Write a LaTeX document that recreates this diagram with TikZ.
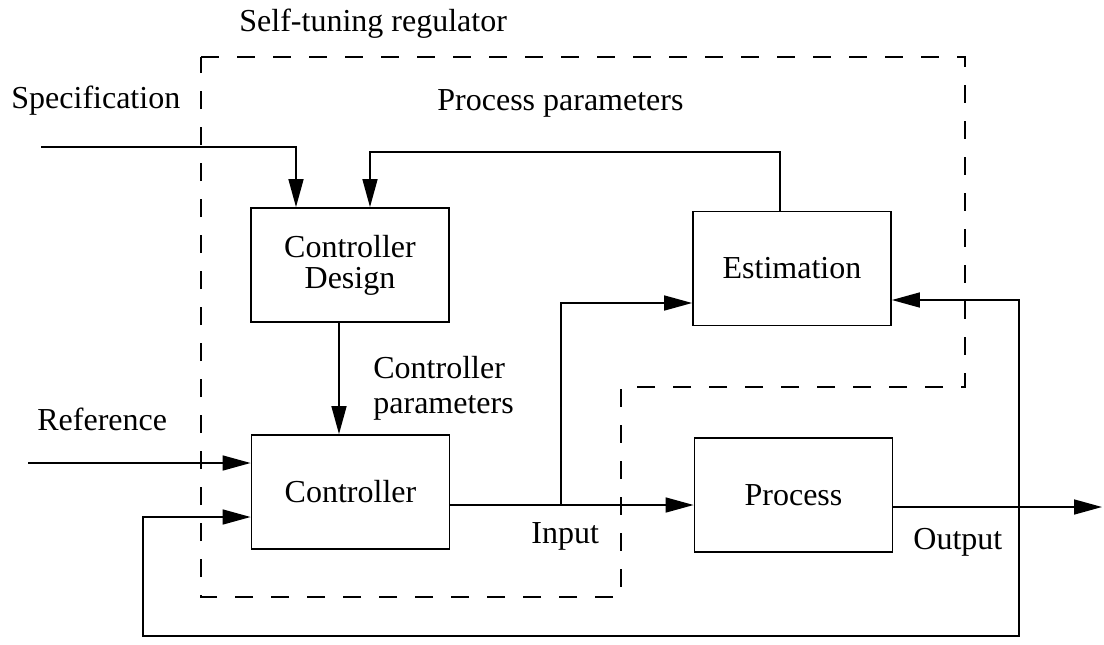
\documentclass[tikz,border=0pt]{standalone}
\usepackage{fontspec}
\setmainfont{Liberation Serif}
\usetikzlibrary{arrows.meta}
\begin{document}
\begin{tikzpicture}[x=0.5pt,y=-0.5pt,
  font=\fontsize{16}{17.5}\selectfont,
  block/.style={draw, line width=0.9pt, minimum width=99pt, minimum height=57pt,
                align=center, inner sep=0pt},
  sig/.style={line width=0.8pt, -{Triangle[length=14pt,width=7.5pt]}},
  wire/.style={line width=0.8pt},
  boundary/.style={line width=0.8pt, dash pattern=on 9pt off 9pt},
  lbl/.style={anchor=base west, inner sep=0pt}]
\useasboundingbox (0,0) rectangle (1104,644);

% blocks
\node[block, font=\fontsize{16}{15.5}\selectfont] (cd) at (350,265) {Controller\\Design};
\node[block] (est) at (792,268.5) {Estimation};
\node[block] (ctrl) at (350.5,492) {Controller};
\node[block] (proc) at (793.5,495) {Process};

% self-tuning regulator boundary
\draw[boundary] (201,57) -- (965,57) -- (965,387) -- (621,387) -- (621,597) -- (201,597) -- cycle;

% specification into the design block
\coordinate (spin) at (41,147);
\coordinate (spk) at (296,147);
\draw[sig] (spin) -- (spk) -- (spk |- cd.north);

% process parameters from estimation to design
\coordinate (pp1) at (780,152);
\coordinate (pp2) at (370,152);
\draw[sig] (pp1 |- est.north) -- (pp1) -- (pp2) -- (pp2 |- cd.north);

% controller parameters
\coordinate (cpx) at (339,380);
\draw[sig] (cpx |- cd.south) -- (cpx |- ctrl.north);

% reference
\coordinate (refin) at (28,463);
\draw[sig] (refin) -- (refin -| ctrl.west);

% input to process and to estimation
\coordinate (ubr) at (561,505);
\draw[sig] (ubr -| ctrl.east) -- (ubr -| proc.west);
\coordinate (ueb) at (561,303);
\draw[sig] (ubr) -- (ueb) -- (ueb -| est.west);

% output, and its feedback to estimation and controller
\coordinate (ybr) at (1019,507);
\coordinate (yout) at (1102,507);
\draw[sig] (ybr -| proc.east) -- (yout);
\coordinate (yeb) at (1019,300);
\draw[sig] (ybr) -- (yeb) -- (yeb -| est.east);
\coordinate (fbr) at (1019,636);
\coordinate (fbl) at (143,636);
\coordinate (fbu) at (143,517);
\draw[sig] (ybr) -- (fbr) -- (fbl) -- (fbu) -- (fbu -| ctrl.west);

% labels
\node[lbl] (tstr) at (239,31) {Self-tuning regulator};
\node[lbl] (tspec) at (11,108) {Specification};
\node[lbl] (tpp) at (437,110) {Process parameters};
\node[anchor=west, inner sep=0pt, align=left, font=\fontsize{16}{17.5}\selectfont] (tcp) at (373,388) {Controller\\parameters};
\node[lbl] (tref) at (37,430) {Reference};
\node[lbl] (tin) at (531,543) {Input};
\node[lbl] (tout) at (913,549) {Output};
\end{tikzpicture}
\end{document}
